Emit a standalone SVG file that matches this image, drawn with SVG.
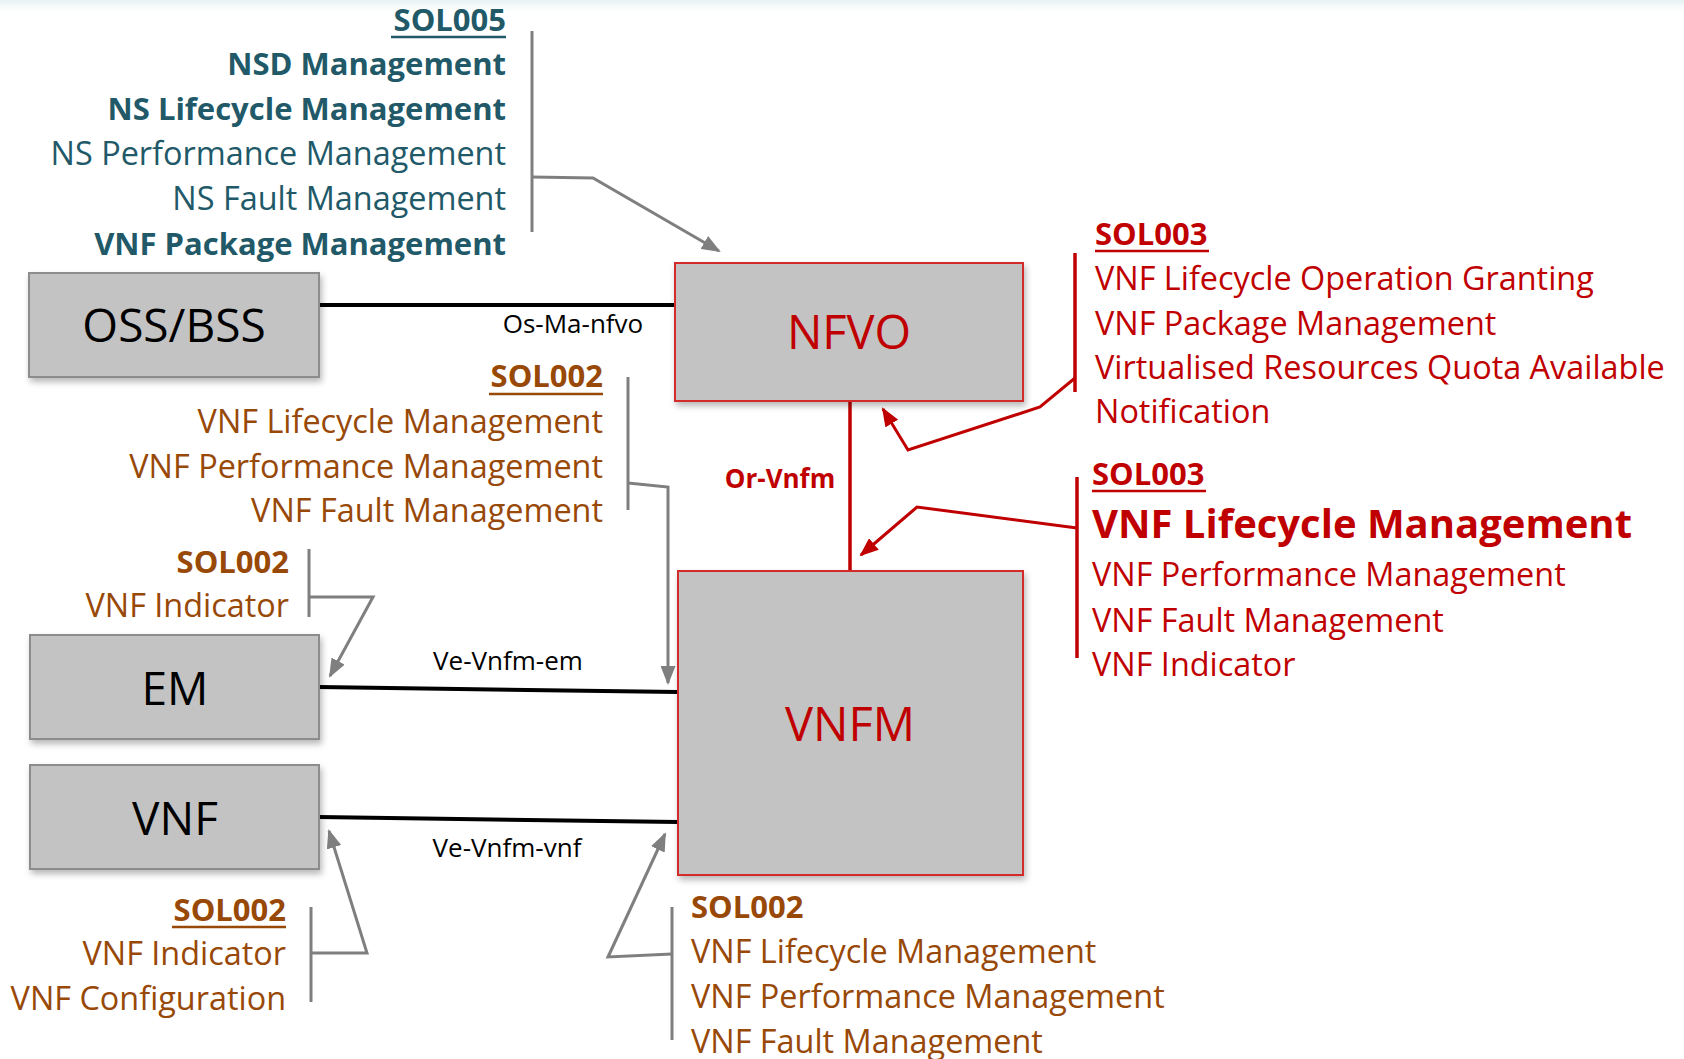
<svg xmlns="http://www.w3.org/2000/svg" width="1684" height="1059" viewBox="0 0 1684 1059">
  <defs>
    <linearGradient id="topHaze" x1="0" y1="0" x2="0" y2="1">
      <stop offset="0" stop-color="#e6f2f5"/>
      <stop offset="1" stop-color="#ffffff" stop-opacity="0"/>
    </linearGradient>
    <filter id="shadow" x="-10%" y="-10%" width="125%" height="130%">
      <feDropShadow dx="2" dy="4" stdDeviation="3" flood-color="#000" flood-opacity="0.28"/>
    </filter>
    <marker id="arrowGray" markerUnits="userSpaceOnUse" markerWidth="19" markerHeight="15" refX="17" refY="7.5" orient="auto">
      <path d="M0,0 L19,7.5 L0,15 z" fill="#7f7f7f"/>
    </marker>
    <marker id="arrowRed" markerUnits="userSpaceOnUse" markerWidth="19" markerHeight="15" refX="17" refY="7.5" orient="auto">
      <path d="M0,0 L19,7.5 L0,15 z" fill="#c00000"/>
    </marker>
    <style>
      text { font-family: "Open Sans", "Noto Sans", sans-serif; }
      .box { fill: #c3c3c3; stroke: #8c8c8c; stroke-width: 2; }
      .boxRed { fill: #c3c3c3; stroke: #d42a2a; stroke-width: 2; }
      .boxLabel { font-size: 46px; fill: #000; text-anchor: middle; }
      .boxLabelRed { font-size: 47px; fill: #c00000; text-anchor: middle; }
      .item { font-size: 32.4px; }
      .item.b { font-size: 31px; }
      .b { font-weight: bold; }
      .teal { fill: #215968; }
      .brown { fill: #984807; }
      .red { fill: #c00000; }
      .end { text-anchor: end; }
      .big { font-size: 40px; font-weight: bold; }
      .iface { font-size: 26px; fill: #000; text-anchor: middle; }
      .ulTeal { stroke: #215968; stroke-width: 2.5; }
      .ulBrown { stroke: #984807; stroke-width: 2.5; }
      .ulRed { stroke: #c00000; stroke-width: 2.5; }
      .link { stroke: #000; stroke-width: 4; fill: none; }
      .bracket { stroke: #7f7f7f; stroke-width: 3; fill: none; }
      .bracketRed { stroke: #c00000; stroke-width: 3.5; fill: none; }
      .lead { stroke: #7f7f7f; stroke-width: 3; fill: none; marker-end: url(#arrowGray); }
      .leadRed { stroke: #c00000; stroke-width: 3; fill: none; marker-end: url(#arrowRed); }
    </style>
  </defs>

  <rect x="0" y="0" width="1684" height="1059" fill="#ffffff"/>
  <rect x="0" y="0" width="1684" height="16" fill="url(#topHaze)"/>

  <!-- Interfaces, brackets and pointer arrows -->
  <g id="connectors">
    <line class="link" x1="319" y1="305" x2="675" y2="305"/>
    <text class="iface" x="573" y="333">Os-Ma-nfvo</text>

    <line x1="850" y1="401" x2="850" y2="571" stroke="#c00000" stroke-width="3.5"/>
    <text class="iface b" x="780" y="488" style="fill:#c00000">Or-Vnfm</text>

    <line class="link" x1="319" y1="687" x2="678" y2="692"/>
    <text class="iface" x="508" y="670">Ve-Vnfm-em</text>

    <line class="link" x1="319" y1="817" x2="678" y2="822"/>
    <text class="iface" x="507" y="857">Ve-Vnfm-vnf</text>

    <!-- SOL005 to NFVO -->
    <line class="bracket" x1="532" y1="31" x2="532" y2="232"/>
    <path class="lead" d="M532,177 L593,178 L719,251"/>

    <!-- SOL002 (VNF LCM/PM/FM) to VNFM -->
    <line class="bracket" x1="628" y1="377" x2="628" y2="510"/>
    <path class="lead" d="M628,483 L668,487 L668,683"/>

    <!-- SOL002 (VNF Indicator) to EM -->
    <line class="bracket" x1="309" y1="549" x2="309" y2="617"/>
    <path class="lead" d="M309,597 L373,597 L330,676"/>

    <!-- SOL002 (VNF Indicator / Configuration) to VNF -->
    <line class="bracket" x1="311" y1="907" x2="311" y2="1002"/>
    <path class="lead" d="M311,953 L367,953 L329,831"/>

    <!-- SOL002 below VNFM -->
    <line class="bracket" x1="672" y1="907" x2="672" y2="1040"/>
    <path class="lead" d="M672,954 L608,957 L665,834"/>

    <!-- SOL003 towards NFVO -->
    <line class="bracketRed" x1="1075" y1="253" x2="1075" y2="392"/>
    <path class="leadRed" d="M1075,378 L1040,407 L908,450 L883,409"/>

    <!-- SOL003 towards VNFM -->
    <line class="bracketRed" x1="1077" y1="477" x2="1077" y2="658"/>
    <path class="leadRed" d="M1077,528 L917,507 L861,555"/>
  </g>

  <!-- Functional blocks -->
  <g id="oss-bss">
    <rect class="box" x="29" y="273" width="290" height="104" filter="url(#shadow)"/>
    <text class="boxLabel" x="174" y="342">OSS/BSS</text>
  </g>

  <g id="em">
    <rect class="box" x="30" y="635" width="289" height="104" filter="url(#shadow)"/>
    <text class="boxLabel" x="175" y="705">EM</text>
  </g>

  <g id="vnf">
    <rect class="box" x="30" y="765" width="289" height="104" filter="url(#shadow)"/>
    <text class="boxLabel" x="175" y="835">VNF</text>
  </g>

  <g id="nfvo">
    <rect class="boxRed" x="675" y="263" width="348" height="138" filter="url(#shadow)"/>
    <text class="boxLabelRed" x="849" y="349">NFVO</text>
  </g>

  <g id="vnfm">
    <rect class="boxRed" x="678" y="571" width="345" height="304" filter="url(#shadow)"/>
    <text class="boxLabelRed" x="850" y="741">VNFM</text>
  </g>

  <!-- API specification lists -->
  <g id="sol005-nfvo">
    <text class="item b teal end" x="506" y="31">SOL005</text>
    <line class="ulTeal" x1="391" y1="37" x2="506" y2="37"/>
    <text class="item b teal end" x="506" y="75">NSD Management</text>
    <text class="item b teal end" x="506" y="120">NS Lifecycle Management</text>
    <text class="item teal end" x="506" y="165">NS Performance Management</text>
    <text class="item teal end" x="506" y="210">NS Fault Management</text>
    <text class="item b teal end" x="506" y="255">VNF Package Management</text>
  </g>

  <g id="sol002-vnfm">
    <text class="item b brown end" x="603" y="387">SOL002</text>
    <line class="ulBrown" x1="489" y1="394" x2="603" y2="394"/>
    <text class="item brown end" x="603" y="433">VNF Lifecycle Management</text>
    <text class="item brown end" x="603" y="478">VNF Performance Management</text>
    <text class="item brown end" x="603" y="522">VNF Fault Management</text>
  </g>

  <g id="sol002-em">
    <text class="item b brown end" x="289" y="573">SOL002</text>
    <text class="item brown end" x="289" y="617">VNF Indicator</text>
  </g>

  <g id="sol002-vnf">
    <text class="item b brown end" x="286" y="921">SOL002</text>
    <line class="ulBrown" x1="172" y1="927" x2="286" y2="927"/>
    <text class="item brown end" x="286" y="965">VNF Indicator</text>
    <text class="item brown end" x="286" y="1010">VNF Configuration</text>
  </g>

  <g id="sol002-vnfm-lower">
    <text class="item b brown" x="691" y="918">SOL002</text>
    <text class="item brown" x="691" y="963">VNF Lifecycle Management</text>
    <text class="item brown" x="691" y="1008">VNF Performance Management</text>
    <text class="item brown" x="691" y="1053">VNF Fault Management</text>
  </g>

  <g id="sol003-nfvo">
    <text class="item b red" x="1095" y="245">SOL003</text>
    <line class="ulRed" x1="1095" y1="251" x2="1209" y2="251"/>
    <text class="item red" x="1095" y="290">VNF Lifecycle Operation Granting</text>
    <text class="item red" x="1095" y="335">VNF Package Management</text>
    <text class="item red" x="1095" y="379">Virtualised Resources Quota Available</text>
    <text class="item red" x="1095" y="423">Notification</text>
  </g>

  <g id="sol003-vnfm">
    <text class="item b red" x="1092" y="485">SOL003</text>
    <line class="ulRed" x1="1092" y1="491" x2="1206" y2="491"/>
    <text class="big red" x="1092" y="538">VNF Lifecycle Management</text>
    <text class="item red" x="1092" y="586">VNF Performance Management</text>
    <text class="item red" x="1092" y="632">VNF Fault Management</text>
    <text class="item red" x="1092" y="676">VNF Indicator</text>
  </g>
</svg>
